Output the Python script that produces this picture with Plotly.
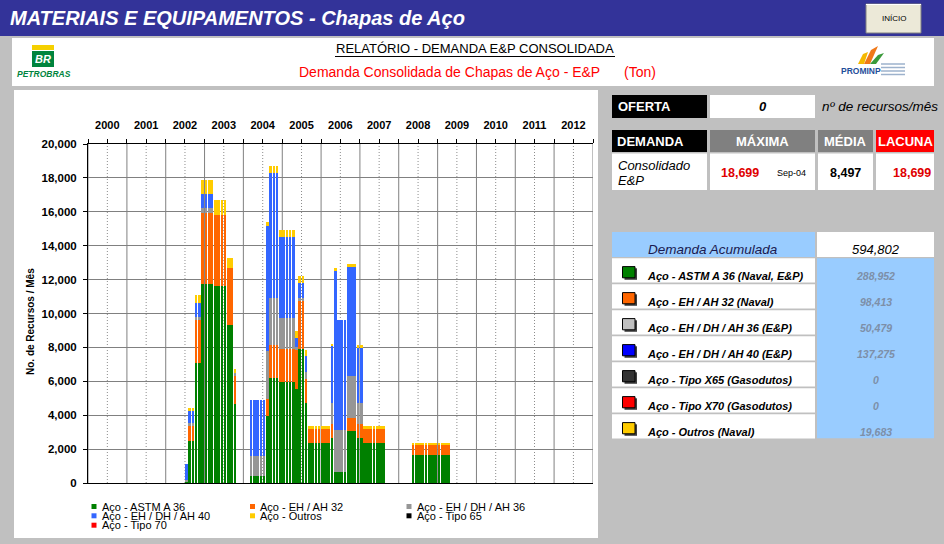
import plotly.graph_objects as go

FONT = "Liberation Sans, Arial, sans-serif"

# ---------------- data (monthly demand, tons) ----------------
months = [
    "2002-07-01", "2002-08-01", "2002-09-01", "2002-10-01", "2002-11-01", "2002-12-01",
    "2003-01-01", "2003-02-01", "2003-03-01", "2003-04-01", "2003-05-01", "2003-06-01",
    "2003-07-01", "2003-08-01", "2003-09-01", "2003-10-01",
    "2004-03-01", "2004-04-01", "2004-05-01", "2004-06-01", "2004-07-01", "2004-08-01",
    "2004-09-01", "2004-10-01", "2004-11-01", "2004-12-01",
    "2005-01-01", "2005-02-01", "2005-03-01", "2005-04-01", "2005-05-01", "2005-06-01",
    "2005-07-01", "2005-08-01", "2005-09-01", "2005-10-01", "2005-11-01", "2005-12-01",
    "2006-01-01", "2006-02-01", "2006-03-01", "2006-04-01", "2006-05-01", "2006-06-01",
    "2006-07-01", "2006-08-01", "2006-09-01", "2006-10-01", "2006-11-01", "2006-12-01",
    "2007-01-01", "2007-02-01", "2007-03-01", "2007-04-01", "2007-05-01", "2007-06-01",
    "2007-07-01", "2007-08-01",
    "2008-05-01", "2008-06-01", "2008-07-01", "2008-08-01", "2008-09-01", "2008-10-01",
    "2008-11-01", "2008-12-01", "2009-01-01", "2009-02-01", "2009-03-01", "2009-04-01",
]

astm_a36 = [
    77, 2450, 2450, 7055, 7055, 11740,
    11740, 11740, 11740, 11640, 11640, 11640, 11640, 9330, 9330, 4680,
    400, 400, 400, 400, 400, 3925, 6190, 6190, 6190, 5980,
    5980, 5980, 5980, 5980, 5540, 7910, 7910, 4710, 2350, 2350, 2350, 2350,
    2350, 2350, 2350, 2640, 670, 670, 670, 670, 3040, 3040, 3040, 2640,
    2640, 2350, 2350, 2350, 2350, 2350, 2350, 2350,
    1660, 1660, 1660, 1660, 1660, 1660, 1660, 1660, 1660, 1660, 1660, 1660,
]
eh_ah32 = [
    0, 890, 890, 2550, 2550, 4200,
    4200, 4200, 4200, 4200, 4200, 4200, 4200, 3340, 3340, 1660,
    0, 0, 0, 0, 0, 1025, 1970, 1970, 1970, 1910,
    1910, 1910, 1910, 1910, 2300, 2820, 2820, 1428, 830, 830, 830, 830,
    830, 830, 830, 850, 0, 0, 0, 0, 790, 790, 790, 850,
    850, 830, 830, 830, 830, 830, 830, 830,
    600, 600, 600, 600, 600, 600, 600, 600, 600, 600, 600, 600,
]
eh_dh_ah36 = [
    100, 200, 200, 160, 160, 300,
    300, 300, 300, 0, 0, 0, 0, 0, 0, 169,
    1180, 1180, 1180, 1180, 1180, 2820, 2760, 2760, 2760, 1870,
    1870, 1870, 1870, 1870, 200, 200, 200, 390, 0, 0, 0, 0,
    0, 0, 0, 1220, 2470, 2470, 2470, 2470, 2470, 2470, 2470, 1220,
    1220, 0, 0, 0, 0, 0, 0, 0,
    0, 0, 0, 0, 0, 0, 0, 0, 0, 0, 0, 0,
]
eh_dh_ah40 = [
    968, 690, 690, 830, 830, 790,
    790, 790, 790, 0, 0, 0, 0, 0, 0, 0,
    3300, 3300, 3300, 3300, 3300, 7400, 7379, 7379, 7379, 4750,
    4750, 4750, 4750, 4750, 500, 850, 850, 990, 0, 0, 0, 0,
    0, 0, 0, 3350, 9350, 6500, 6500, 6500, 6450, 6450, 6450, 3250,
    3250, 0, 0, 0, 0, 0, 0, 0,
    0, 0, 0, 0, 0, 0, 0, 0, 0, 0, 0, 0,
]
outros = [
    0, 200, 200, 490, 490, 830,
    830, 830, 830, 830, 830, 830, 830, 630, 630, 193,
    0, 0, 0, 0, 0, 240, 400, 400, 400, 400,
    400, 400, 400, 400, 400, 430, 430, 300, 195, 195, 195, 195,
    195, 195, 195, 160, 200, 0, 0, 0, 160, 160, 160, 160,
    160, 195, 195, 195, 195, 195, 195, 195,
    110, 110, 110, 110, 110, 110, 110, 110, 110, 110, 110, 110,
]
tipo65 = [
    0, 0, 0, 0, 0, 0, 0, 0, 0, 0, 0, 0, 0, 0, 0, 0,
    0, 0, 0, 0, 0, 0, 0, 0, 0, 0, 0, 0, 0, 0, 0, 0, 0, 0, 0, 0, 0, 0, 0, 0, 0,
    0, 0, 0, 0, 0, 0, 0, 0, 0, 0, 0, 0, 0, 0, 0, 0, 0,
    0, 0, 0, 0, 0, 0, 0, 0, 0, 0, 0, 0,
]
tipo70 = [
    0, 0, 0, 0, 0, 0, 0, 0, 0, 0, 0, 0, 0, 0, 0, 0,
    0, 0, 0, 0, 0, 0, 0, 0, 0, 0, 0, 0, 0, 0, 0, 0, 0, 0, 0, 0, 0, 0, 0, 0, 0,
    0, 0, 0, 0, 0, 0, 0, 0, 0, 0, 0, 0, 0, 0, 0, 0, 0,
    0, 0, 0, 0, 0, 0, 0, 0, 0, 0, 0, 0,
]

series_names = ["Aço - ASTM A 36", "Aço - EH / AH 32", "Aço - EH / DH / AH 36",
                "Aço - EH / DH / AH 40", "Aço - Outros", "Aço - Tipo 65", "Aço - Tipo 70"]
series_values = [astm_a36, eh_ah32, eh_dh_ah36, eh_dh_ah40, outros, tipo65, tipo70]
series_colors = ["#008000", "#FF6600", "#969696", "#3366FF", "#FFCC00", "#000000", "#FF0000"]

year_labels = ["2000", "2001", "2002", "2003", "2004", "2005", "2006",
               "2007", "2008", "2009", "2010", "2011", "2012"]
year_bounds = ["2000", "2001", "2002", "2003", "2004", "2005", "2006",
               "2007", "2008", "2009", "2010", "2011", "2012", "2013"]

oferta_value = "0"
maxima_value = "18,699"
maxima_month = "Sep-04"
media_value = "8,497"
lacuna_value = "18,699"
acum_total = "594,802"
acum_labels = ["Aço - ASTM A 36 (Naval, E&amp;P)", "Aço - EH / AH 32 (Naval)",
               "Aço - EH / DH / AH 36 (E&amp;P)", "Aço - EH / DH / AH 40 (E&amp;P)",
               "Aço - Tipo X65 (Gasodutos)", "Aço - Tipo X70 (Gasodutos)", "Aço - Outros (Naval)"]
acum_values = ["288,952", "98,413", "50,479", "137,275", "0", "0", "19,683"]
acum_icon_colors = ["#008000", "#FF6600", "#C0C0C0", "#0000FF", "#333333", "#FF0000", "#FFCC00"]

# ---------------- geometry helpers ----------------
W, H = 944, 544
L, R, T, B = 88, 351, 144, 61
PW, PH = W - L - R, H - T - B


def X(px):
    return (px - L) / PW


def Y(py):
    return (H - B - py) / PH


shapes = []
annotations = []


def rect(x0, y0, x1, y1, fill, line_color=None, line_width=0, layer="below"):
    shapes.append(dict(type="rect", xref="paper", yref="paper",
                       x0=X(x0), x1=X(x1), y0=Y(y1), y1=Y(y0),
                       fillcolor=fill, layer=layer,
                       line=dict(color=line_color or fill, width=line_width)))


def hline(x0, x1, y, color="black", width=1):
    shapes.append(dict(type="line", xref="paper", yref="paper",
                       x0=X(x0), x1=X(x1), y0=Y(y), y1=Y(y),
                       line=dict(color=color, width=width)))


def poly(points, fill):
    d = "M " + " L ".join(f"{X(a):.5f},{Y(b):.5f}" for a, b in points) + " Z"
    shapes.append(dict(type="path", xref="paper", yref="paper", path=d,
                       fillcolor=fill, line=dict(width=0)))


def txt(x, y, s, size=12, color="black", bold=False, italic=False, anchor="left", angle=0):
    annotations.append(dict(xref="paper", yref="paper", x=X(x), y=Y(y), text=s,
                            showarrow=False, xanchor=anchor, yanchor="middle",
                            textangle=angle,
                            font=dict(family=FONT, size=size, color=color,
                                      weight="bold" if bold else "normal",
                                      style="italic" if italic else "normal")))


# ---------------- page decoration ----------------
rect(0, 0, 944, 36, "#333399")
txt(8, 18, "MATERIAIS E EQUIPAMENTOS - Chapas de Aço", size=20, color="white", bold=True, italic=True)
rect(866, 4, 921, 33, "#ECE9D8", line_color="#808080", line_width=1)
hline(866, 921, 4.5, "#FFFFFF", 1)
txt(893.5, 18.5, "INÍCIO", size=8, anchor="center")

rect(12, 38, 934, 86, "white")
txt(475, 49, "RELATÓRIO - DEMANDA E&amp;P CONSOLIDADA", size=13, anchor="center")
hline(335, 615, 56.5, "black", 1)
txt(297, 72, "Demanda Consolidada de Chapas de Aço - E&amp;P", size=14, color="#FF0000")
txt(622, 72, "(Ton)", size=14, color="#FF0000")

# Petrobras logo
rect(32, 45, 54, 50, "#F5D000")
rect(32, 51, 54, 67, "#00843D")
txt(43, 59, "BR", size=11, color="white", bold=True, italic=True, anchor="center")
txt(44, 74, "PETROBRAS", size=8.5, color="#00843D", bold=True, italic=True, anchor="center")

# Prominp logo
poly([(858, 64), (864, 64), (868, 52), (863, 54)], "#F5B800")
poly([(864, 64), (870, 64), (878, 46), (871, 50)], "#F07818")
poly([(870, 64), (876, 64), (884, 53), (878, 55)], "#3A9A3A")
txt(861, 70.5, "PROMINP", size=8.5, color="#1F4E9A", bold=True, anchor="center")
for yy in (64, 67.5, 71, 74.5):
    hline(881, 905, yy, "#9DB2CC", 1.5)

# chart panel
rect(14, 90, 598, 538, "white")

# vertical grid: solid at year boundaries, dotted at mid-year
for yb in year_bounds:
    shapes.append(dict(type="line", xref="x", yref="paper", layer="below",
                       x0=f"{yb}-01-01", x1=f"{yb}-01-01", y0=0, y1=1,
                       line=dict(color="#808080", width=1)))
for yl in year_labels:
    shapes.append(dict(type="line", xref="x", yref="paper", layer="below",
                       x0=f"{yl}-07-01", x1=f"{yl}-07-01", y0=0, y1=1,
                       line=dict(color="#8C8C8C", width=1, dash="1px,2px")))

# ---------------- bars ----------------
fig = go.Figure()
BAR_W = 25 * 24 * 3600 * 1000  # ms
for name, vals, color in zip(series_names, series_values, series_colors):
    fig.add_trace(go.Bar(x=months, y=vals, name=name, width=BAR_W, offset=0,
                         marker=dict(color=color, line=dict(width=0)),
                         xaxis="x2" if name == series_names[-1] else "x",
                         showlegend=False))

# y axis title
txt(30, 322, "No. de Recursos / Mês", size=10, bold=True, anchor="center", angle=-90)

# manual compact legend
leg_cols = [91.5, 250, 406.5]
leg_rows = [506.5, 515.8, 525.2]
for i, (name, color) in enumerate(zip(series_names, series_colors)):
    cx = leg_cols[i % 3]
    cy = leg_rows[i // 3]
    rect(cx, cy - 2.5, cx + 5, cy + 2.5, color, layer="above")
    txt(cx + 8, cy, name, size=11)

# ---------------- right side tables ----------------
rect(612, 95, 707, 118, "black", layer="above")
txt(616, 107, "OFERTA", size=13, color="white", bold=True)
rect(710, 95, 815, 118, "white", layer="above")
txt(762.5, 107, oferta_value, size=13, bold=True, italic=True, anchor="center")
txt(820, 107, "nº de recursos/mês", size=13.5, italic=True)

rect(612, 130, 707, 152, "black", layer="above")
txt(615, 141.5, "DEMANDA", size=13, color="white", bold=True)
rect(710, 130, 815, 152, "#808080", layer="above")
txt(762.5, 141.5, "MÁXIMA", size=13, color="white", bold=True, anchor="center")
rect(818, 130, 873, 152, "#808080", layer="above")
txt(845.5, 141.5, "MÉDIA", size=13, color="white", bold=True, anchor="center")
rect(876, 130, 934, 152, "#FF0000", layer="above")
txt(905, 141.5, "LACUNA", size=13, color="white", bold=True, anchor="center")

for x0, x1 in ((612, 707), (710, 815), (818, 873), (876, 934)):
    rect(x0, 153.5, x1, 190, "white", layer="above")
txt(615.5, 165, "Consolidado", size=13, italic=True)
txt(615.5, 180.5, "E&amp;P", size=13, italic=True)
txt(739.5, 173.5, maxima_value, size=12.5, color="#E00000", bold=True, anchor="center")
txt(791.5, 172.5, maxima_month, size=9, anchor="center")
txt(845.5, 173.5, media_value, size=12.5, bold=True, anchor="center")
txt(911.5, 173.5, lacuna_value, size=12.5, color="#E00000", bold=True, anchor="center")

# demanda acumulada
rect(612, 232, 815, 257, "#99CCFF", layer="above")
txt(713, 249, "Demanda Acumulada", size=13.5, color="#1A1A50", italic=True, anchor="center")
rect(817, 232, 934, 257, "white", layer="above")
txt(875.5, 249, acum_total, size=13, italic=True, anchor="center")
rect(817, 258.3, 934, 438.3, "#99CCFF", layer="above")
for i, (lab, val, col) in enumerate(zip(acum_labels, acum_values, acum_icon_colors)):
    top = 258.3 + 26.0 * i
    rect(612, top, 815, top + 24.3, "white", layer="above")
    rect(624.5, top + 10, 637, top + 21.5, "#404040", layer="above")
    rect(622.5, top + 8.3, 635, top + 19.5, col, line_color="black", line_width=1, layer="above")
    txt(645, top + 17.3, lab, size=11, bold=True, italic=True)
    txt(875.5, top + 18, val, size=10.5, color="#7D8FA8", bold=True, italic=True, anchor="center")

# ---------------- layout ----------------
x_range = ["2000-01-01", "2013-01-01"]
fig.update_layout(
    width=W, height=H,
    margin=dict(l=L, r=R, t=T, b=B),
    paper_bgcolor="#C0C0C0",
    plot_bgcolor="rgba(0,0,0,0)",
    barmode="stack",
    showlegend=False,
    font=dict(family=FONT, color="black"),
    shapes=shapes,
    annotations=annotations,
    xaxis=dict(
        type="date", range=x_range, side="top",
        tickmode="array", tickvals=[f"{y}-01-01" for y in year_bounds],
        showticklabels=False, ticks="outside", ticklen=4, tickcolor="black",
        showgrid=False,
        showline=True, linecolor="black", linewidth=1, mirror=True,
        fixedrange=True,
    ),
    xaxis2=dict(
        type="date", range=x_range, side="top", overlaying="x", anchor="y",
        tickmode="array",
        tickvals=[f"{y}-07-01" for y in year_labels], ticktext=year_labels,
        tickfont=dict(family=FONT, size=11, color="black", weight="bold"),
        ticks="outside", ticklen=4, tickcolor="black",
        ticklabelstandoff=6,
        showgrid=False, showline=False,
        fixedrange=True,
    ),
    yaxis=dict(
        range=[0, 20000], tickmode="linear", tick0=0, dtick=2000, tickformat=",d",
        tickfont=dict(family=FONT, size=11.5, color="black", weight="bold"),
        ticks="outside", ticklen=4, tickcolor="black", ticklabelstandoff=4,
        showgrid=True, gridcolor="#808080", gridwidth=1, zeroline=False,
        showline=True, linecolor="black", linewidth=1,
        fixedrange=True,
    ),
)

fig.write_html("out.html", config={"displayModeBar": False},
               post_script="document.body.style.margin='0';document.body.style.overflow='hidden';")
